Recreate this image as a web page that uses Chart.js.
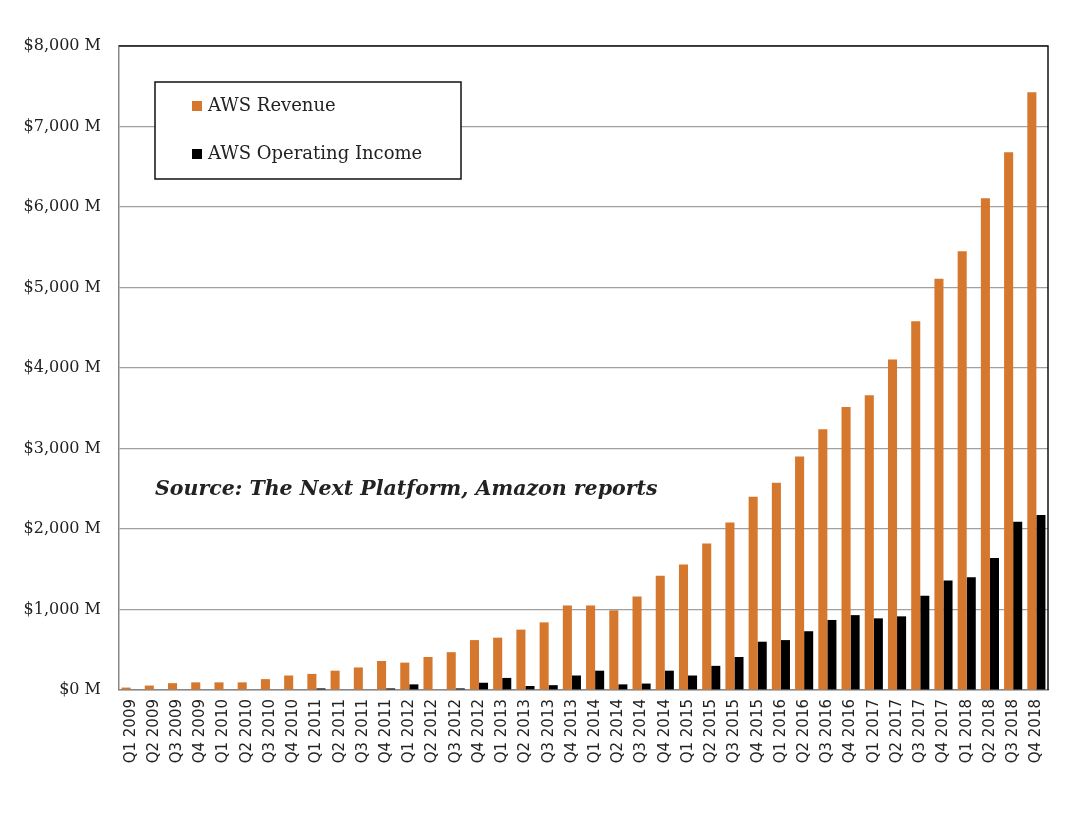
<!DOCTYPE html>
<html>
<head>
<meta charset="utf-8">
<script src="https://cdn.jsdelivr.net/npm/chart.js@4"></script>
<style>
  html, body { margin: 0; padding: 0; background: #fff; }
  #wrap { width: 1080px; height: 815px; }
</style>
</head>
<body>
<div id="wrap"><canvas id="awsChart" width="1080" height="815"></canvas></div>
<script>
/* AWS revenue vs operating income, quarterly, $M */
const quarters = [
  'Q1 2009','Q2 2009','Q3 2009','Q4 2009',
  'Q1 2010','Q2 2010','Q3 2010','Q4 2010',
  'Q1 2011','Q2 2011','Q3 2011','Q4 2011',
  'Q1 2012','Q2 2012','Q3 2012','Q4 2012',
  'Q1 2013','Q2 2013','Q3 2013','Q4 2013',
  'Q1 2014','Q2 2014','Q3 2014','Q4 2014',
  'Q1 2015','Q2 2015','Q3 2015','Q4 2015',
  'Q1 2016','Q2 2016','Q3 2016','Q4 2016',
  'Q1 2017','Q2 2017','Q3 2017','Q4 2017',
  'Q1 2018','Q2 2018','Q3 2018','Q4 2018'
];

const awsRevenue = [
  30, 55, 85, 95,
  95, 95, 135, 180,
  200, 240, 280, 360,
  340, 410, 470, 620,
  650, 750, 840, 1050,
  1050, 990, 1160, 1420,
  1560, 1820, 2080, 2400,
  2575, 2900, 3240, 3515,
  3660, 4105, 4580, 5110,
  5450, 6110, 6680, 7425
];

const awsIncome = [
  0, 0, 0, 0,
  0, 0, 0, 0,
  20, 0, 0, 20,
  70, 0, 20, 90,
  150, 50, 60, 180,
  240, 70, 80, 240,
  180, 300, 410, 600,
  620, 730, 870, 930,
  890, 915, 1170, 1360,
  1400, 1640, 2090, 2175
];

const yTicks = [0, 1000, 2000, 3000, 4000, 5000, 6000, 7000, 8000];

const sourceNote = 'Source: The Next Platform, Amazon reports';

// legend box + frame + source note drawn inside the plot area
const overlay = {
  id: 'overlay',
  afterDraw(chart) {
    const ctx = chart.ctx;
    const a = chart.chartArea;
    ctx.save();
    // top and right frame
    ctx.strokeStyle = '#111';
    ctx.lineWidth = 1.5;
    ctx.beginPath();
    ctx.moveTo(a.left, a.top);
    ctx.lineTo(a.right, a.top);
    ctx.lineTo(a.right, a.bottom);
    ctx.stroke();

    // legend
    const lx = a.left + 36, ly = a.top + 36, lw = 306, lh = 97;
    ctx.fillStyle = '#fff';
    ctx.fillRect(lx, ly, lw, lh);
    ctx.strokeStyle = '#111';
    ctx.lineWidth = 1.5;
    ctx.strokeRect(lx, ly, lw, lh);
    ctx.font = '18px "DejaVu Serif"';
    ctx.textBaseline = 'middle';
    chart.data.datasets.forEach((ds, i) => {
      const cy = ly + 24 + i * 48;
      ctx.fillStyle = ds.backgroundColor;
      ctx.fillRect(lx + 37, cy - 5, 10, 10);
      ctx.fillStyle = '#222';
      ctx.fillText(ds.label, lx + 53, cy);
    });

    // source note
    ctx.font = 'italic bold 20.5px "DejaVu Serif"';
    ctx.fillStyle = '#222';
    ctx.textBaseline = 'alphabetic';
    ctx.fillText(sourceNote, lx, a.top + 449);
    ctx.restore();
  }
};

const config = {
  type: 'bar',
  data: {
    labels: quarters,
    datasets: [{
      label: 'AWS Revenue',
      data: awsRevenue,
      backgroundColor: '#d5772d',
      categoryPercentage: 0.78,
      barPercentage: 1.0
    }, {
      label: 'AWS Operating Income',
      data: awsIncome,
      backgroundColor: '#000000',
      categoryPercentage: 0.78,
      barPercentage: 1.0
    }]
  },
  options: {
    responsive: false,
    animation: false,
    layout: { padding: { left: 0, top: 46, right: 32, bottom: 0 } },
    plugins: {
      legend: { display: false },
      tooltip: { enabled: false }
    },
    scales: {
      x: {
        grid: { display: false, drawTicks: false },
        border: { color: '#888', width: 1.5 },
        ticks: {
          autoSkip: false,
          maxRotation: 90,
          minRotation: 90,
          padding: 9,
          color: '#222',
          font: { family: '"DejaVu Sans"', size: 15 }
        },
        afterFit(scale) { scale.height = 125; }
      },
      y: {
        min: 0,
        max: 8000,
        afterBuildTicks(scale) { scale.ticks = yTicks.map(v => ({ value: v })); },
        grid: { color: '#a0a0a0', lineWidth: 1.2, drawTicks: false },
        border: { color: '#888', width: 1.5 },
        ticks: {
          padding: 18,
          color: '#222',
          font: { family: '"DejaVu Serif"', size: 16 },
          callback: v => '$' + v.toLocaleString('en-US') + ' M'
        },
        afterFit(scale) { scale.width = 119; }
      }
    }
  },
  plugins: [overlay]
};

var myChart = new Chart(
  document.getElementById('awsChart'),
  config
);
</script>
</body>
</html>
